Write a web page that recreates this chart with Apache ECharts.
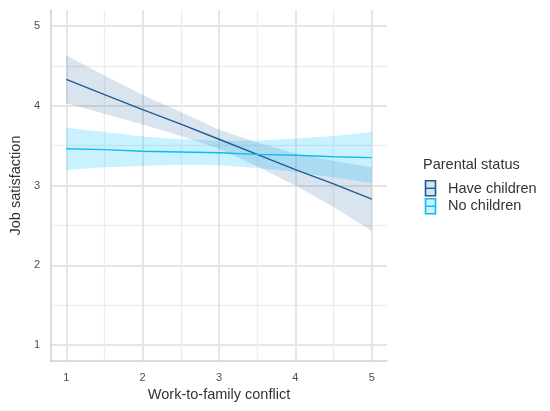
<!DOCTYPE html>
<html>
<head>
<meta charset="utf-8">
<script src="https://cdn.jsdelivr.net/npm/echarts@6/dist/echarts.min.js"></script>
<style>
html,body{margin:0;padding:0;background:#fff;}
#chart{width:550px;height:411px;}
</style>
</head>
<body>
<div id="chart"></div>
<script>
// ---- data ----
const xValues = [1, 1.5, 2, 2.5, 3, 3.5, 4, 4.5, 5];
const haveChildrenFit   = [4.33, 4.14, 3.95, 3.77, 3.58, 3.39, 3.20, 3.02, 2.83];
const haveChildrenUpper = [4.63, 4.38, 4.135, 3.92, 3.70, 3.54, 3.40, 3.31, 3.23];
const haveChildrenLower = [4.03, 3.90, 3.765, 3.62, 3.46, 3.24, 3.00, 2.73, 2.43];
const noChildrenFit   = [3.46, 3.45, 3.43, 3.42, 3.41, 3.39, 3.38, 3.36, 3.35];
const noChildrenUpper = [3.725, 3.67, 3.615, 3.58, 3.565, 3.56, 3.59, 3.62, 3.67];
const noChildrenLower = [3.195, 3.23, 3.245, 3.26, 3.255, 3.22, 3.17, 3.10, 3.03];
const majorTicks = [1, 2, 3, 4, 5];
const minorTicks = [1.5, 2.5, 3.5, 4.5];
const groupNames = ['Have children', 'No children'];
const legendTitle = 'Parental status';
const xTitle = 'Work-to-family conflict';
const yTitle = 'Job satisfaction';

const hcLine = '#1d5c9c', hcFill = 'rgba(29,92,156,0.17)';
const ncLine = '#0cbcf0', ncFill = 'rgba(0,191,255,0.21)';
const FONT = '"Liberation Sans", Arial, sans-serif';

function pairs(ys){ return xValues.map((x,i)=>[x, ys[i]]); }

const chart = echarts.init(document.getElementById('chart'), null, {renderer:'canvas'});

function bandSeries(upper, lower, fill){
  return {
    type:'custom', xAxisIndex:1, yAxisIndex:1, silent:true, z:2,
    data:[[xValues[0], upper[0]]],
    renderItem:function(params, api){
      const pts = [];
      for (let i=0;i<xValues.length;i++) pts.push(api.coord([xValues[i], upper[i]]));
      for (let i=xValues.length-1;i>=0;i--) pts.push(api.coord([xValues[i], lower[i]]));
      return {type:'polygon', shape:{points:pts}, style:{fill:fill}};
    }
  };
}

const majorAxisBase = {
  type:'value', min:0.8, max:5.2,
  axisTick:{show:false, customValues: majorTicks},
  axisLabel:{customValues: majorTicks, color:'#4d4d4d', fontSize:11, fontFamily:FONT, margin:11},
  splitLine:{show:true, lineStyle:{color:'#e5e5e5', width:2}},
  axisLine:{show:true, lineStyle:{color:'#cfcfcf', width:1.5}},
  nameLocation:'middle',
  nameTextStyle:{color:'#333', fontSize:14.5, fontFamily:FONT}
};
const minorAxisBase = {
  type:'value', min:0.8, max:5.2,
  axisTick:{show:false, customValues: minorTicks},
  axisLabel:{show:false},
  axisLine:{show:false},
  splitLine:{show:true, lineStyle:{color:'#ededed', width:1.4}}
};

const option = {
  animation:false,
  backgroundColor:'#fff',
  grid:{left:47, right:163, top:10, bottom:50, containLabel:false},
  xAxis:[
    Object.assign({}, minorAxisBase, {position:'bottom'}),
    Object.assign({}, majorAxisBase, {position:'bottom', name:xTitle, nameGap:23})
  ],
  yAxis:[
    Object.assign({}, minorAxisBase, {position:'left'}),
    Object.assign({}, majorAxisBase, {position:'left', name:yTitle, nameGap:21})
  ],
  series:[
    bandSeries(haveChildrenUpper, haveChildrenLower, hcFill),
    bandSeries(noChildrenUpper, noChildrenLower, ncFill),
    {type:'line', name:groupNames[0], xAxisIndex:1, yAxisIndex:1, data:pairs(haveChildrenFit),
     symbol:'none', lineStyle:{color:hcLine, width:1.4}, z:3},
    {type:'line', name:groupNames[1], xAxisIndex:1, yAxisIndex:1, data:pairs(noChildrenFit),
     symbol:'none', lineStyle:{color:ncLine, width:1.4}, z:3}
  ],
  graphic:[
    {type:'text', left:423, top:157, style:{text:legendTitle, fill:'#333', font:'14.5px '+FONT}},
    {type:'group', left:423, top:180, children:[
      {type:'rect', shape:{x:0,y:0,width:10,height:15}, style:{fill:'#d8e2ec', stroke:hcLine, lineWidth:1.6}},
      {type:'line', shape:{x1:0,y1:7.5,x2:10,y2:7.5}, style:{stroke:hcLine, lineWidth:1.4}}
    ]},
    {type:'group', left:423, top:198, children:[
      {type:'rect', shape:{x:0,y:0,width:10,height:15}, style:{fill:'#caf1fd', stroke:ncLine, lineWidth:1.6}},
      {type:'line', shape:{x1:0,y1:7.5,x2:10,y2:7.5}, style:{stroke:ncLine, lineWidth:1.4}}
    ]},
    {type:'text', left:448, top:181, style:{text:groupNames[0], fill:'#333', font:'14.5px '+FONT}},
    {type:'text', left:448, top:198, style:{text:groupNames[1], fill:'#333', font:'14.5px '+FONT}}
  ]
};
chart.setOption(option);
</script>
</body>
</html>
